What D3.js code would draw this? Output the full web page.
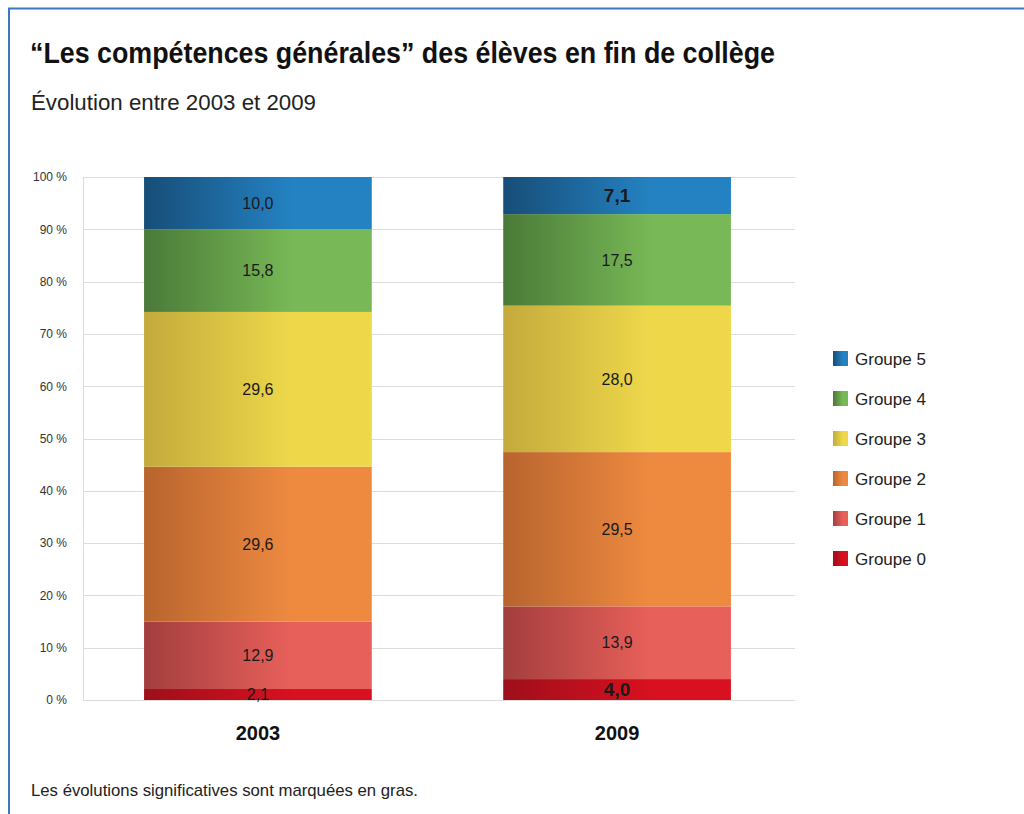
<!DOCTYPE html>
<html>
<head>
<meta charset="utf-8">
<script src="https://cdn.jsdelivr.net/npm/d3@7"></script>
<style>
  body { margin: 0; background: #fff; }
  text { font-family: "Liberation Sans", Arial, sans-serif; }
</style>
</head>
<body>
<div id="container"></div>
<script>
// data
const years = ['2003', '2009'];
const groups = ['Groupe 0', 'Groupe 1', 'Groupe 2', 'Groupe 3', 'Groupe 4', 'Groupe 5'];
const values2003 = [2.1, 12.9, 29.6, 29.6, 15.8, 10.0];
const values2009 = [4.0, 13.9, 29.5, 28.0, 17.5, 7.1];
// significant changes (drawn bold)
const bold2009 = [true, false, false, false, false, true];
const yTicks = [0, 10, 20, 30, 40, 50, 60, 70, 80, 90, 100];

// gradient colours: dark (left) -> light (right)
const colorsDark = ['#9e0f1a', '#a33e3e', '#b8642e', '#c4aa3c', '#4a7a38', '#174d78'];
const colorsLight = ['#d8101f', '#e8605a', '#ee8a40', '#eed84a', '#78b856', '#2482c2'];

const width = 1024;
const height = 814;
const margin = { left: 83, right: 229, top: 177, bottom: 114 };

const svg = d3.select('#container')
    .append('svg')
    .attr('width', width)
    .attr('height', height);

// frame lines
svg.append('line')
    .attr('x1', 8).attr('x2', width).attr('y1', 8.5).attr('y2', 8.5)
    .style('stroke', '#3a78c0').style('stroke-width', 2);
svg.append('line')
    .attr('x1', 9).attr('x2', 9).attr('y1', 8).attr('y2', height)
    .style('stroke', '#3a78c0').style('stroke-width', 2);

// titles (compressed to match the narrow original face)
svg.append('text')
    .attr('x', 30).attr('y', 63)
    .attr('textLength', 745).attr('lengthAdjust', 'spacingAndGlyphs')
    .style('font-size', '29px').style('font-weight', 'bold').style('fill', '#111')
    .text('\u201cLes compétences générales\u201d des élèves en fin de collège');
svg.append('text')
    .attr('x', 31).attr('y', 110)
    .attr('textLength', 285).attr('lengthAdjust', 'spacingAndGlyphs')
    .style('font-size', '22px').style('fill', '#222')
    .text('Évolution entre 2003 et 2009');

// scales
const xScale = d3.scaleBand()
    .domain(years)
    .range([margin.left, width - margin.right - 3])
    .paddingInner(0.366)
    .paddingOuter(0.17);

const yScale = d3.scaleLinear()
    .domain([0, 100])
    .range([height - margin.bottom, margin.top]);

// gradients
const defs = svg.append('defs');
groups.forEach((g, i) => {
    const grad = defs.append('linearGradient')
        .attr('id', 'grad' + i)
        .attr('x1', '0%').attr('x2', '100%').attr('y1', '0%').attr('y2', '0%');
    grad.append('stop').attr('offset', '0%').attr('stop-color', colorsDark[i]);
    grad.append('stop').attr('offset', '65%').attr('stop-color', colorsLight[i]);
    grad.append('stop').attr('offset', '100%').attr('stop-color', colorsLight[i]);
});

// gridlines
svg.append('g')
    .selectAll('line')
    .data(yTicks)
    .enter()
    .append('line')
    .attr('x1', margin.left)
    .attr('x2', width - margin.right)
    .attr('y1', (d) => Math.round(yScale(d)) + 0.5)
    .attr('y2', (d) => Math.round(yScale(d)) + 0.5)
    .style('stroke', '#dcdcdc');

svg.append('line')
    .attr('x1', margin.left + 0.5).attr('x2', margin.left + 0.5)
    .attr('y1', yScale(100)).attr('y2', yScale(0))
    .style('stroke', '#dcdcdc');

// y axis labels
const yAxis = d3.axisLeft(yScale)
    .tickValues(yTicks)
    .tickSize(0)
    .tickPadding(16)
    .tickFormat((d) => d + ' %');

svg.append('g')
    .attr('transform', `translate(${margin.left}, 0)`)
    .call(yAxis)
    .call((g) => g.select('.domain').remove())
    .selectAll('text')
    .style('font-size', '12px')
    .style('fill', '#333')
    .style('font-family', '"Liberation Sans", Arial, sans-serif');

// stacked data
const table = years.map((y, j) => {
    const vals = j === 0 ? values2003 : values2009;
    const row = { year: y };
    groups.forEach((g, i) => { row[g] = vals[i]; });
    return row;
});
const stack = d3.stack().keys(groups)(table);

stack.forEach((layer, i) => {
    svg.append('g')
        .selectAll('rect')
        .data(layer)
        .enter()
        .append('rect')
        .attr('x', (d) => xScale(d.data.year))
        .attr('width', xScale.bandwidth())
        .attr('y', (d) => yScale(d[1]))
        .attr('height', (d) => yScale(d[0]) - yScale(d[1]))
        .style('fill', `url(#grad${i})`);
});

// value labels
stack.forEach((layer, i) => {
    svg.append('g')
        .selectAll('text')
        .data(layer)
        .enter()
        .append('text')
        .attr('x', (d) => xScale(d.data.year) + xScale.bandwidth() / 2)
        .attr('y', (d) => (yScale(d[0]) + yScale(d[1])) / 2)
        .attr('dy', '0.36em')
        .attr('text-anchor', 'middle')
        .style('font-size', (d) => (d.data.year === '2009' && bold2009[i]) ? '19px' : '16px')
        .style('font-weight', (d) => (d.data.year === '2009' && bold2009[i]) ? 'bold' : 'normal')
        .style('fill', '#1a1a1a')
        .text((d) => (d[1] - d[0]).toFixed(1).replace('.', ','));
});

// x axis labels
const xAxis = d3.axisBottom(xScale).tickSize(0).tickPadding(26);
svg.append('g')
    .attr('transform', `translate(0, ${yScale(0)})`)
    .call(xAxis)
    .call((g) => g.select('.domain').remove())
    .selectAll('text')
    .style('font-size', '20px')
    .style('font-weight', 'bold')
    .style('fill', '#111')
    .style('font-family', '"Liberation Sans", Arial, sans-serif');

// legend
const legendGroups = groups.slice().reverse();
const legend = svg.append('g')
    .selectAll('g')
    .data(legendGroups)
    .enter()
    .append('g')
    .attr('transform', (d, i) => `translate(833, ${351 + i * 40})`);

legend.append('rect')
    .attr('width', 15).attr('height', 15)
    .style('fill', (d) => `url(#grad${groups.indexOf(d)})`);

legend.append('text')
    .attr('x', 22).attr('y', 8)
    .attr('dy', '0.35em')
    .style('font-size', '17px')
    .style('fill', '#222')
    .text((d) => d);

// footnote
svg.append('text')
    .attr('x', 31).attr('y', 796)
    .attr('textLength', 387).attr('lengthAdjust', 'spacingAndGlyphs')
    .style('font-size', '17px')
    .style('fill', '#222')
    .text('Les évolutions significatives sont marquées en gras.');
</script>
</body>
</html>
